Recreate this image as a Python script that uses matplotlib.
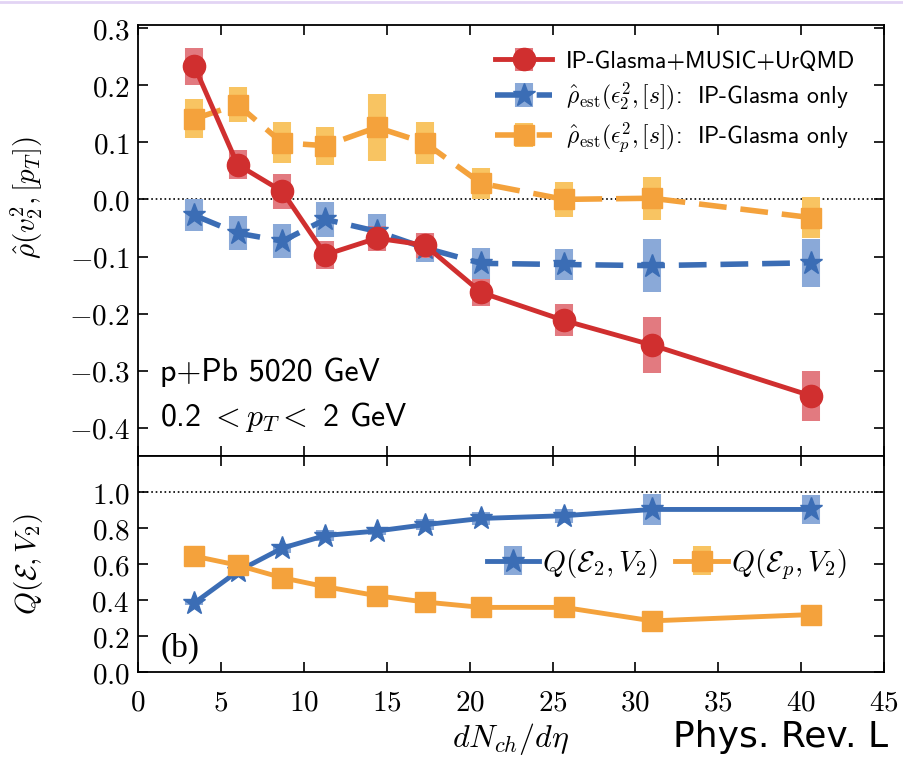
import numpy as np
import matplotlib
matplotlib.use('Agg')
import matplotlib.pyplot as plt
from matplotlib.ticker import FuncFormatter, MultipleLocator
from matplotlib.lines import Line2D

plt.rcParams['mathtext.fontset'] = 'cm'

# dN_ch/deta bins
dndeta = [3.4, 6.0, 8.7, 11.3, 14.4, 17.3, 20.7, 25.7, 31.0, 40.6]

# top panel: rho(v2^2,[pT])
rho_full = [0.233, 0.061, 0.014, -0.097, -0.068, -0.080, -0.163, -0.212, -0.255, -0.344]
rho_full_err = [0.032, 0.026, 0.030, 0.025, 0.022, 0.022, 0.024, 0.028, 0.049, 0.044]
rho_e2 = [-0.028, -0.059, -0.073, -0.035, -0.056, -0.085, -0.112, -0.114, -0.116, -0.111]
rho_e2_err = [0.028, 0.030, 0.030, 0.030, 0.030, 0.025, 0.027, 0.028, 0.046, 0.042]
rho_ep = [0.141, 0.166, 0.099, 0.094, 0.126, 0.099, 0.028, 0.000, 0.002, -0.032]
rho_ep_err = [0.034, 0.030, 0.036, 0.033, 0.058, 0.037, 0.027, 0.030, 0.038, 0.036]

# bottom panel: Q(E,V2)
q_e2 = [0.385, 0.56, 0.69, 0.76, 0.785, 0.82, 0.855, 0.87, 0.905, 0.905]
q_e2_err = [0.01, 0.02, 0.025, 0.03, 0.02, 0.03, 0.035, 0.04, 0.085, 0.08]
q_ep = [0.645, 0.595, 0.525, 0.475, 0.425, 0.39, 0.36, 0.36, 0.285, 0.32]
q_ep_err = [0.01, 0.01, 0.01, 0.01, 0.01, 0.01, 0.01, 0.01, 0.01, 0.01]

red, red_l = '#d02f2f', '#e27a80'
blue, blue_l = '#3b6db5', '#8aa9d8'
orange, orange_l = '#f4a23c', '#f8c462'

fig = plt.figure(figsize=(9.04, 7.62), dpi=100)
gs = fig.add_gridspec(2, 1, height_ratios=[2, 1], hspace=0,
                      left=0.1527, right=0.978, top=0.967, bottom=0.118)
ax1 = fig.add_subplot(gs[0])
ax2 = fig.add_subplot(gs[1], sharex=ax1)

fmt = FuncFormatter(lambda v, p: r'$%.1f$' % v)

ax1.axhline(0, color='k', ls=':', lw=1.2, zorder=0)
ax1.errorbar(dndeta, rho_ep, yerr=rho_ep_err, color=orange, ecolor=orange_l, elinewidth=13,
             capsize=0, marker='s', ms=15, lw=4, ls='--', dashes=(5, 2.5),
             label=r'$\hat{\rho}_{\rm est}(\epsilon_p^2,[s])$:  IP-Glasma only')
ax1.errorbar(dndeta, rho_e2, yerr=rho_e2_err, color=blue, ecolor=blue_l, elinewidth=13,
             capsize=0, marker='*', ms=17, lw=4, ls='--', dashes=(5, 2.5),
             label=r'$\hat{\rho}_{\rm est}(\epsilon_2^2,[s])$:  IP-Glasma only')
ax1.errorbar(dndeta, rho_full, yerr=rho_full_err, color=red, ecolor=red_l, elinewidth=13,
             capsize=0, marker='o', ms=16, lw=3.5, ls='-',
             label='IP-Glasma+MUSIC+UrQMD')
h, l = ax1.get_legend_handles_labels()
ax1.legend(h[::-1], l[::-1], loc='upper right', bbox_to_anchor=(0.99, 0.99), frameon=False,
           prop=dict(family='cmss10', size=17), handlelength=2.4, labelspacing=0.35,
           handletextpad=0.6)

ax1.text(0.03, 0.175, 'p+Pb 5020 GeV', transform=ax1.transAxes, family='cmss10', fontsize=23)
ax1.text(0.03, 0.07, r'0.2$\ <p_T<\ $2 GeV', transform=ax1.transAxes, family='cmss10', fontsize=23)

ax1.set_ylim(-0.45, 0.305)
ax1.yaxis.set_major_locator(MultipleLocator(0.1))
ax1.yaxis.set_major_formatter(fmt)
ax1.set_ylabel(r'$\hat{\rho}(v_2^2,[p_T])$', fontsize=21)
ax1.yaxis.set_label_coords(-0.125, 0.6)
ax1.tick_params(labelbottom=False)

ax2.axhline(1.0, color='k', ls=':', lw=1.2, zorder=0)
ax2.errorbar(dndeta, q_e2, yerr=q_e2_err, color=blue, ecolor=blue_l, elinewidth=13,
             capsize=0, marker='*', ms=17, lw=3.5, label=r'$Q(\mathcal{E}_2,V_2)$')
ax2.errorbar(dndeta, q_ep, yerr=q_ep_err, color=orange, ecolor=orange_l, elinewidth=13,
             capsize=0, marker='s', ms=15, lw=3.5, label=r'$Q(\mathcal{E}_p,V_2)$')
ax2.legend(loc='center right', bbox_to_anchor=(0.985, 0.5), ncol=2, frameon=False,
           fontsize=21, handlelength=1.8, handletextpad=0.1, columnspacing=0.6)
ax2.text(0.03, 0.07, '(b)', transform=ax2.transAxes, family='Liberation Serif', fontsize=24)

ax2.set_ylim(0, 1.2)
ax2.set_yticks([0.0, 0.2, 0.4, 0.6, 0.8, 1.0])
ax2.yaxis.set_major_formatter(fmt)
ax2.set_ylabel(r'$Q(\mathcal{E},V_2)$', fontsize=21)
ax2.yaxis.set_label_coords(-0.125, 0.5)
ax2.set_xlim(0, 45)
ax2.set_xticks(np.arange(0, 46, 5))
ax2.xaxis.set_major_formatter(FuncFormatter(lambda v, p: r'$%d$' % v))
ax2.set_xlabel(r'$dN_{ch}/d\eta$', fontsize=23, labelpad=3)

for ax in (ax1, ax2):
    ax.tick_params(direction='in', top=True, right=True, length=7, width=1.2,
                   labelsize=21, pad=6)
    for s in ax.spines.values():
        s.set_linewidth(1.3)
ax2.tick_params(axis='x', pad=12)

# source note (cut at the right edge in the original screenshot)
fig.text(0.745, 0.02, 'Phys. Rev. L', family='DejaVu Sans', fontsize=26)
fig.add_artist(Line2D([0, 1], [0.998, 0.998], color='#e2d4f4', lw=2, transform=fig.transFigure))

fig.savefig('out.png', dpi=100)
